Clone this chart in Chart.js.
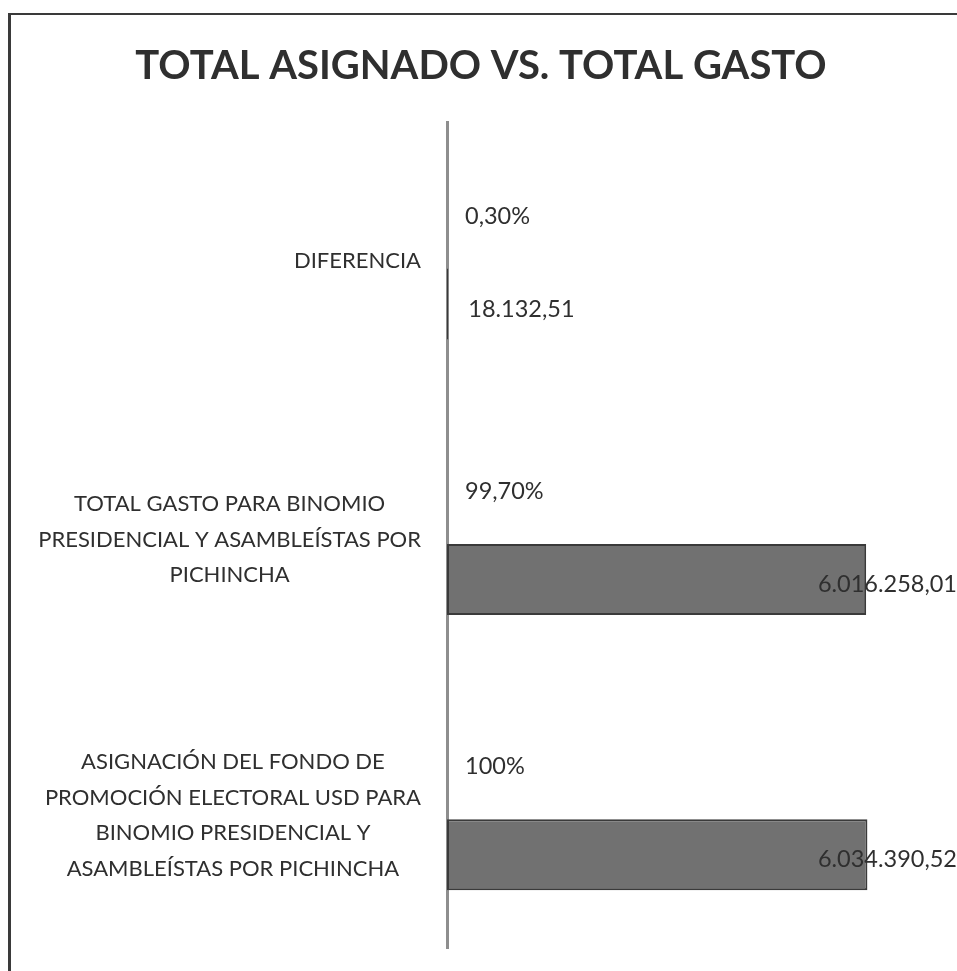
<!DOCTYPE html>
<html>
<head>
<meta charset="utf-8">
<script src="https://cdn.jsdelivr.net/npm/chart.js@4.4.1/dist/chart.umd.min.js"></script>
<style>
  html, body { margin: 0; padding: 0; background: #ffffff; }
  #wrap { width: 957px; height: 971px; position: relative; }
</style>
</head>
<body>
<div id="wrap"><canvas id="c" width="957" height="971"></canvas></div>
<script>
// ---- data ----
const chartTitle = 'TOTAL ASIGNADO VS. TOTAL GASTO';
const categories = [
  ['DIFERENCIA'],
  ['TOTAL GASTO PARA BINOMIO', 'PRESIDENCIAL Y ASAMBLEÍSTAS POR', 'PICHINCHA'],
  ['ASIGNACIÓN DEL FONDO DE', 'PROMOCIÓN ELECTORAL USD PARA', 'BINOMIO PRESIDENCIAL Y', 'ASAMBLEÍSTAS POR PICHINCHA']
];
const percentValues = [0.30, 99.70, 100];
const amountValues = [18132.51, 6016258.01, 6034390.52];
const axisMax = 7320000;

// ---- formatting ----
function fmtAmount(v) {
  const parts = v.toFixed(2).split('.');
  const intPart = parts[0].replace(/\B(?=(\d{3})+(?!\d))/g, '.');
  return intPart + ',' + parts[1];
}
function fmtPercent(v) {
  if (Number.isInteger(v)) return v + '%';
  return v.toFixed(2).replace('.', ',') + '%';
}

const FONT = 'Lato, "Open Sans", sans-serif';
const TEXT_COLOR = '#2f2f2f';
const LABEL_SIZE = 22;
const VALUE_SIZE = 23.5;

const framePlugin = {
  id: 'frame',
  beforeDraw(chart) {
    const ctx = chart.ctx;
    ctx.save();
    ctx.fillStyle = '#ffffff';
    ctx.fillRect(0, 0, chart.width, chart.height);
    ctx.strokeStyle = '#3a3a3a';
    ctx.lineWidth = 3;
    ctx.beginPath();
    ctx.moveTo(9.5, chart.height);
    ctx.lineTo(9.5, 14);
    ctx.stroke();
    ctx.lineWidth = 2;
    ctx.beginPath();
    ctx.moveTo(8, 14);
    ctx.lineTo(chart.width, 14);
    ctx.stroke();
    ctx.restore();
  }
};

const labelsPlugin = {
  id: 'customLabels',
  afterDraw(chart) {
    const ctx = chart.ctx;
    const yScale = chart.scales.y;
    ctx.save();
    ctx.fillStyle = TEXT_COLOR;
    ctx.textBaseline = 'alphabetic';
    ctx.textAlign = 'left';

    // category labels: block right-aligned against the axis, lines centred within block
    ctx.font = LABEL_SIZE + 'px ' + FONT;
    let capH = LABEL_SIZE * 0.72;
    const blockRight = chart.chartArea.left - 26;
    const pitch = 35.5;
    categories.forEach((lines, i) => {
      const cy = yScale.getPixelForValue(i) + (lines.length > 1 ? 4 : 0);
      const widths = lines.map(l => ctx.measureText(l).width);
      const blockW = Math.max(...widths);
      const center = blockRight - blockW / 2;
      lines.forEach((l, j) => {
        const y = cy + (j - (lines.length - 1) / 2) * pitch + capH / 2;
        ctx.fillText(l, center - widths[j] / 2, y);
      });
    });

    // percentage labels
    ctx.font = VALUE_SIZE + 'px ' + FONT;
    capH = VALUE_SIZE * 0.72;
    const pMeta = chart.getDatasetMeta(0);
    pMeta.data.forEach((el, i) => {
      const txt = fmtPercent(percentValues[i]);
      ctx.fillText(txt, el.base + 18, el.y + capH / 2);
    });

    // amount labels
    const aMeta = chart.getDatasetMeta(1);
    aMeta.data.forEach((el, i) => {
      const txt = fmtAmount(amountValues[i]);
      const w = ctx.measureText(txt).width;
      const x = Math.min(el.x + 20, chart.width - w);
      ctx.fillText(txt, x, el.y + 4 + capH / 2);
    });
    ctx.restore();
  }
};

new Chart(document.getElementById('c'), {
  type: 'bar',
  data: {
    labels: categories.map(l => l.join(' ')),
    datasets: [
      {
        label: 'Porcentaje',
        data: percentValues,
        backgroundColor: 'rgba(0,0,0,0)',
        borderWidth: 0,
        categoryPercentage: 0.645,
        barPercentage: 0.8
      },
      {
        label: 'USD',
        data: amountValues,
        backgroundColor: '#717171',
        borderColor: '#3a3a3a',
        borderWidth: 2,
        borderSkipped: false,
        categoryPercentage: 0.645,
        barPercentage: 0.8
      }
    ]
  },
  options: {
    indexAxis: 'y',
    responsive: false,
    animation: false,
    events: [],
    layout: { padding: { left: 5, right: 0, top: 0, bottom: 23 } },
    plugins: {
      legend: { display: false },
      tooltip: { enabled: false },
      title: {
        display: true,
        text: chartTitle,
        color: '#2f2f2f',
        font: { family: FONT, size: 40, weight: 'bold', lineHeight: 1.2 },
        padding: { top: 42, bottom: 32 }
      }
    },
    scales: {
      x: {
        display: false,
        min: 0,
        max: axisMax
      },
      y: {
        display: true,
        grid: { display: false, drawTicks: false },
        ticks: { display: false },
        border: { display: true, color: '#8e8e8e', width: 3 },
        afterFit(scale) { scale.width = 442; }
      }
    }
  },
  plugins: [framePlugin, labelsPlugin]
});
</script>
</body>
</html>
